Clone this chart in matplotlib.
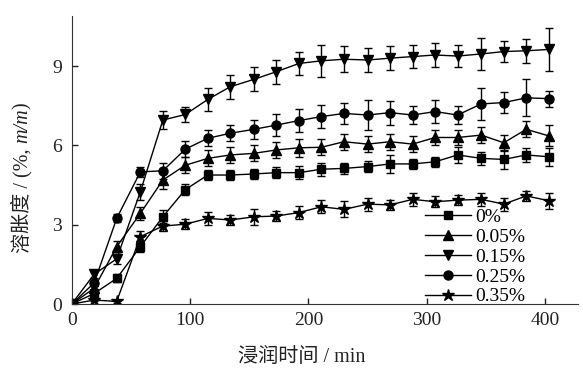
import matplotlib
matplotlib.use('Agg')
from matplotlib import pyplot as plt

plt.rcParams['font.family'] = ['Liberation Serif', 'Noto Sans CJK SC']

# soaking time (min)
t = [0, 19, 38, 58, 77, 96, 115, 134, 154, 173, 192, 211, 230, 250, 269, 288, 307, 326, 346, 365, 384, 403]

# swelling degree (%, m/m) for each additive level
s_0 = [0, 0.4, 0.97, 2.17, 3.3, 4.33, 4.88, 4.88, 4.92, 4.97, 4.97, 5.1, 5.13, 5.2, 5.3, 5.3, 5.38, 5.64, 5.51, 5.47, 5.64, 5.57]
s_005 = [0, 0.6, 2.17, 3.43, 4.69, 5.25, 5.51, 5.64, 5.7, 5.83, 5.91, 5.93, 6.14, 6.05, 6.14, 6.05, 6.3, 6.3, 6.39, 6.1, 6.61, 6.36]
s_015 = [0, 1.13, 1.71, 4.25, 6.96, 7.17, 7.74, 8.22, 8.5, 8.79, 9.1, 9.2, 9.26, 9.23, 9.3, 9.36, 9.42, 9.38, 9.46, 9.55, 9.58, 9.63]
s_025 = [0, 0.8, 3.24, 5.0, 5.04, 5.86, 6.27, 6.46, 6.61, 6.77, 6.94, 7.09, 7.21, 7.15, 7.24, 7.15, 7.28, 7.15, 7.57, 7.62, 7.8, 7.77]
s_035 = [0, 0.15, 0.1, 2.55, 2.95, 3.02, 3.24, 3.18, 3.3, 3.33, 3.46, 3.68, 3.58, 3.78, 3.75, 3.96, 3.87, 3.93, 3.96, 3.78, 4.09, 3.91]

# standard deviations
e_0 = [0, 0.1, 0.15, 0.2, 0.25, 0.2, 0.2, 0.2, 0.2, 0.2, 0.25, 0.25, 0.2, 0.2, 0.35, 0.2, 0.2, 0.3, 0.25, 0.35, 0.25, 0.35]
e_005 = [0, 0.1, 0.2, 0.25, 0.35, 0.3, 0.3, 0.3, 0.3, 0.3, 0.35, 0.3, 0.3, 0.3, 0.3, 0.3, 0.3, 0.3, 0.3, 0.3, 0.3, 0.4]
e_015 = [0, 0.15, 0.2, 0.3, 0.35, 0.3, 0.45, 0.45, 0.45, 0.45, 0.45, 0.6, 0.5, 0.45, 0.45, 0.45, 0.45, 0.4, 0.6, 0.4, 0.45, 0.8]
e_025 = [0, 0.1, 0.15, 0.2, 0.3, 0.3, 0.3, 0.3, 0.35, 0.4, 0.45, 0.45, 0.4, 0.55, 0.45, 0.35, 0.45, 0.35, 0.6, 0.4, 0.7, 0.3]
e_035 = [0, 0.05, 0.05, 0.2, 0.2, 0.2, 0.25, 0.2, 0.3, 0.2, 0.25, 0.25, 0.3, 0.25, 0.2, 0.25, 0.2, 0.2, 0.25, 0.25, 0.2, 0.3]

labels = ['0%', '0.05%', '0.15%', '0.25%', '0.35%']
series = [(s_0, e_0, 's', 6), (s_005, e_005, '^', 6.5), (s_015, e_015, 'v', 6.5),
          (s_025, e_025, 'o', 6.5), (s_035, e_035, '*', 9)]

W, H = 583, 369
fig = plt.figure(figsize=(W / 100, H / 100), dpi=100)
ax = fig.add_axes([0.123, 0.176, 0.869, 0.781])

for (y, e, m, ms), lab in zip(series, labels):
    ax.errorbar(t, y, yerr=e, color='black', marker=m, markersize=ms, linewidth=1,
                elinewidth=1, capsize=3, capthick=1, label=lab)

ax.set_xlim(0, 428)
ax.set_ylim(0, 10.9)
ax.set_xticks([0, 100, 200, 300, 400])
ax.set_yticks([0, 3, 6, 9])
ax.tick_params(direction='in', labelsize=14, length=4, width=1, colors='#222222')
ax.tick_params(axis='x', pad=6)
ax.tick_params(axis='y', pad=7)
ax.spines['top'].set_visible(False)
ax.spines['right'].set_visible(False)
ax.spines['left'].set_color('#333333')
ax.spines['bottom'].set_color('#333333')

fig.text(302 / W, 1 - 358 / H, '浸润时间 / min', fontsize=14.5, color='#222222',
         ha='center', va='center')

# y label in pieces so that m/m can be italic
fig.canvas.draw()
rend = fig.canvas.get_renderer()
ypix = 253
for txt, st in [('溶胀度 / (%, ', 'normal'), ('m/m', 'italic'), (')', 'normal')]:
    tx = fig.text(27 / W, 1 - ypix / H, txt, rotation=90, rotation_mode='anchor',
                  ha='left', va='baseline', fontsize=14.5, style=st, color='#222222')
    ypix -= tx.get_window_extent(rend).height

handles, labs = ax.get_legend_handles_labels()
handles = [h[0] for h in handles]
ax.legend(handles, labs, loc='lower left', bbox_to_anchor=(0.697, -0.005), frameon=False,
          fontsize=14, handlelength=2.4, labelspacing=0.12, handletextpad=0.2,
          borderaxespad=0, borderpad=0)

fig.savefig('out.png', dpi=100)
